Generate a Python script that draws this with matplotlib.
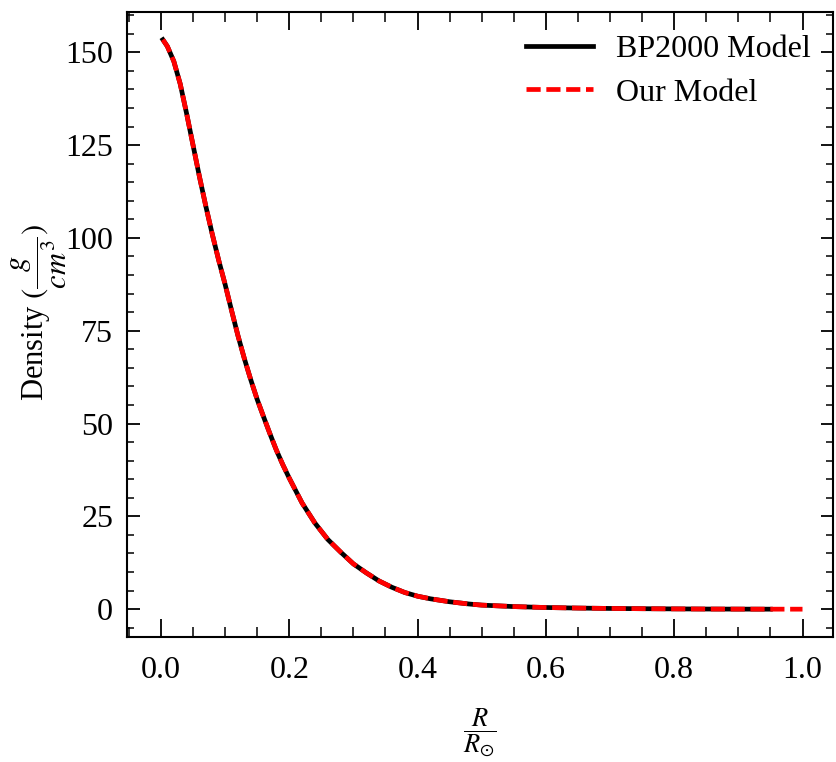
import matplotlib
matplotlib.use("Agg")
import matplotlib.pyplot as plt
from matplotlib.ticker import MultipleLocator

plt.rcParams['font.family'] = ['Liberation Serif', 'DejaVu Serif']
plt.rcParams['mathtext.fontset'] = 'stix'

# BP2000 model
r_bp = [0.003, 0.01, 0.02, 0.03, 0.04, 0.05, 0.06, 0.07, 0.08, 0.09, 0.10, 0.11, 0.12,
        0.13, 0.14, 0.15, 0.16, 0.17, 0.18, 0.19, 0.20, 0.22, 0.24, 0.26, 0.28, 0.30,
        0.32, 0.34, 0.36, 0.38, 0.40, 0.42, 0.45, 0.48, 0.50, 0.55, 0.60, 0.65, 0.70,
        0.75, 0.80, 0.85, 0.90, 0.95]
rho_bp = [153.4, 151.6, 147.6, 141.5, 133.5, 125.0, 116.5, 108.5, 101.0, 94.0, 87.5,
          80.5, 73.7, 67.5, 61.8, 56.5, 51.8, 47.2, 42.8, 38.9, 35.3, 28.6, 23.2, 18.8,
          15.4, 12.2, 9.8, 7.6, 5.9, 4.5, 3.5, 2.8, 2.0, 1.4, 1.1, 0.7, 0.45, 0.30,
          0.20, 0.13, 0.08, 0.04, 0.02, 0.005]

# Our model
r_our = r_bp + [0.975, 1.0]
rho_our = rho_bp + [0.003, 0.001]

fig = plt.figure(figsize=(8.36, 7.62), dpi=100)
ax = fig.add_axes([0.152, 0.164, 0.844, 0.820])

ax.plot(r_bp, rho_bp, color='black', lw=3.4, label='BP2000 Model')
ax.plot(r_our, rho_our, color='red', lw=3.4, ls=(0, (3, 1.2)), label='Our Model')

ax.xaxis.set_major_locator(MultipleLocator(0.2))
ax.xaxis.set_minor_locator(MultipleLocator(0.05))
ax.yaxis.set_major_locator(MultipleLocator(25))
ax.yaxis.set_minor_locator(MultipleLocator(5))
ax.set_xlim(-0.0528, 1.047)
ax.set_ylim(-7.5, 160.8)

ax.tick_params(which='both', direction='in', top=True, right=True, labelsize=23)
ax.tick_params(axis='y', which='major', length=9, width=1.3, pad=10)
ax.tick_params(axis='y', which='minor', length=5, width=1.1)
ax.tick_params(axis='x', which='major', length=13, width=1.3, pad=14)
ax.tick_params(axis='x', which='minor', length=7, width=1.1)
for s in ax.spines.values():
    s.set_linewidth(1.5)

ax.set_xlabel(r'$\dfrac{R}{R_{\odot}}$', fontsize=19, labelpad=15)
ax.set_ylabel(r'Density $(\dfrac{g}{cm^3})$', fontsize=22, labelpad=-3)
ax.yaxis.label.set_y(0.52)

ax.legend(loc='upper right', frameon=False, fontsize=23, handlelength=2.1,
          handletextpad=0.7, labelspacing=0.45, borderaxespad=0.3)

fig.savefig('out.png', dpi=100)
